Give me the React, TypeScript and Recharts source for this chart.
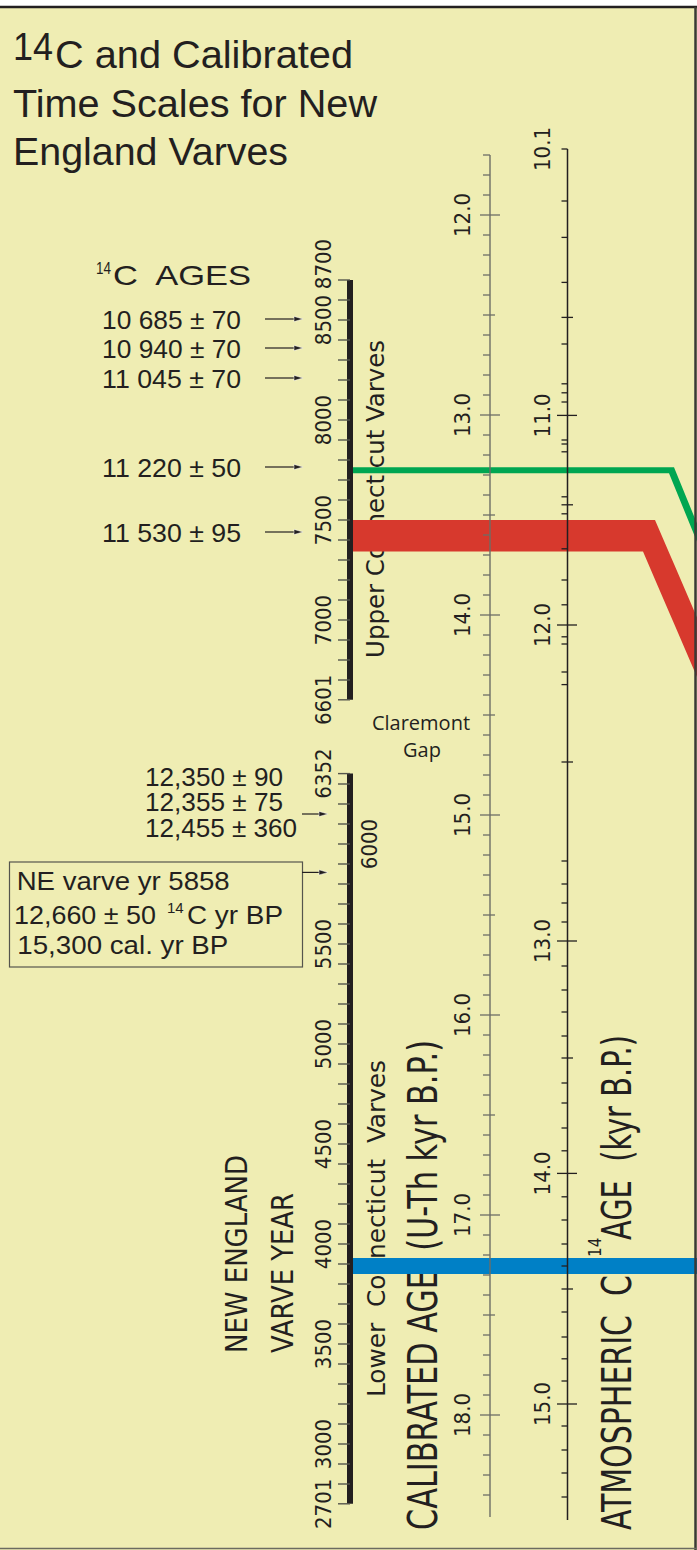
import React from 'react'
import { ComposedChart, XAxis, YAxis, Area, Scatter, ReferenceLine } from 'recharts'

const W = 697
const H = 1550

// vertical axis = calibrated age (kyr BP), 200 px per kyr, 12.0 at y = 215
const CAL_TOP = 10.925
const CAL_BOTTOM = 18.675

// New England varve sequences either side of the Claremont Gap: cal kyr = anchorCal + (anchorVarve - v) / 1000
const upperSeg = { first: 8700, last: 6601, anchorVarve: 7000, anchorCal: 14.025 }
const lowerSeg = { first: 6352, last: 2701, anchorVarve: 6000, anchorCal: 15.145 }

const upperVarveLabels = [8700, 8500, 8000, 7500, 7000, 6601]
const lowerVarveLabels = [6352, 6000, 5500, 5000, 4500, 4000, 3500, 3000, 2701]

// calibrated (U-Th) scale
const calFirst = 11.7
const calLast = 18.4
const calLineEnd = 18.51
const calLabels = [12, 13, 14, 15, 16, 17, 18]

// atmospheric 14C scale: tick value and where it sits on the calibrated scale
const c14Values = [10.1, 10.2, 10.3, 10.4, 10.5, 10.6, 10.7, 10.8, 10.9, 11.0,
  11.1, 11.2, 11.3, 11.4, 11.5, 11.6, 11.7, 11.8, 11.9, 12.0,
  12.1, 12.2, 12.3, 12.4, 12.5, 12.6, 12.7, 12.8, 12.9, 13.0,
  13.1, 13.2, 13.3, 13.4, 13.5, 13.6, 13.7, 13.8, 13.9, 14.0,
  14.1, 14.2, 14.3, 14.4, 14.5, 14.6, 14.7, 14.8, 14.9, 15.0,
  15.1, 15.2, 15.3, 15.4]
const c14CalAge = [11.670, 11.930, 12.112, 12.337, 12.512, 12.645, 12.844, 12.889, 12.935, 13.002,
  13.125, 13.145, 13.184, 13.409, 13.449, 13.494, 13.669, 13.825, 13.949, 14.050,
  14.109, 14.145, 14.285, 14.348, 14.735, 15.230, 15.345, 15.440, 15.535, 15.630,
  15.755, 15.875, 15.985, 16.105, 16.215, 16.340, 16.440, 16.565, 16.679, 16.792,
  16.909, 17.025, 17.145, 17.255, 17.370, 17.485, 17.610, 17.719, 17.830, 17.945,
  18.055, 18.175, 18.290, 18.410]
const c14LineEnd = 18.525
const c14Labels = ['10.1', '11.0', '12.0', '13.0', '14.0', '15.0']

// 14C dates and the varve years they point at
const upperDates = ['10 685 ± 70', '10 940 ± 70', '11 045 ± 70', '11 220 ± 50', '11 530 ± 95']
const upperDateVarves = [8505, 8360, 8210, 7765, 7440]
const lowerDates = ['12,350 ± 90', '12,355 ± 75', '12,455 ± 360']
const lowerArrowVarves = [6150, 5858]

// highlighted varve intervals
const greenVarves = [7734, 7764]
const redVarves = [7342, 7500]
const blueVarves = [3850, 3930]

const INK = '#231f20'
const BG = '#efedb3'
const GREEN = '#00a651'
const RED = '#d7392d'
const BLUE = '#0080c6'
const NARROW = "'Liberation Sans Narrow', 'Arial Narrow', 'DejaVu Sans Condensed', sans-serif"
const SANS = "'Liberation Sans', Arial, Helvetica, sans-serif"
const MYRIAD = "'Open Sans', 'Noto Sans', sans-serif"

const VARVE_X = 350
const CAL_X = 490
const C14_X = 567.5

const varveCal = (v: number, seg: typeof upperSeg) => seg.anchorCal + (seg.anchorVarve - v) / 1000
const round = (n: number) => Math.round(n * 1000) / 1000

// varve ticks every 100 yr plus the ends of each sequence
const varveTickPts: any[] = []
for (const seg of [upperSeg, lowerSeg]) {
  varveTickPts.push({ x: VARVE_X, y: varveCal(seg.first, seg) })
  for (let v = Math.floor(seg.first / 100) * 100; v > seg.last; v -= 100) {
    if (v !== seg.first) varveTickPts.push({ x: VARVE_X, y: varveCal(v, seg) })
  }
  varveTickPts.push({ x: VARVE_X, y: varveCal(seg.last, seg) })
}
const varveLabelPts = [
  ...upperVarveLabels.map(v => ({ x: VARVE_X, y: varveCal(v, upperSeg), label: String(v), v })),
  ...lowerVarveLabels.map(v => ({ x: VARVE_X, y: varveCal(v, lowerSeg), label: String(v), v })),
]

const calTickPts: any[] = []
for (let i = 0; round(calFirst + i / 10) <= calLast; i++) {
  const c = round(calFirst + i / 10)
  const kind = Math.abs(c - Math.round(c)) < 1e-6 ? 'major' : Math.abs(c * 2 - Math.round(c * 2)) < 1e-6 ? 'half' : 'minor'
  calTickPts.push({ x: CAL_X, y: c, kind })
}
const calLabelPts = calLabels.map(c => ({ x: CAL_X, y: c, label: c.toFixed(1) }))

const c14TickPts = c14Values.map((v, i) => {
  const tenths = Math.round(v * 10) % 10
  return { x: C14_X, y: c14CalAge[i], kind: tenths === 0 ? 'major' : tenths === 5 ? 'half' : 'minor' }
})
const c14LabelPts = c14Labels.map(l => ({ x: C14_X, y: c14CalAge[c14Values.indexOf(Number(l))], label: l }))

const upperArrowPts = upperDateVarves.map((v, i) => ({ x: 303, y: varveCal(v, upperSeg), label: upperDates[i] }))
const lowerArrowPts = lowerArrowVarves.map(v => ({ x: 328, y: varveCal(v, lowerSeg) }))

// bands: horizontal, then (green, red) dropping off to the right edge
const bandXs = [353, 643, 655, 669, 674, W]
const bands = [
  { key: 'green', cal: [varveCal(greenVarves[1], upperSeg), varveCal(greenVarves[0], upperSeg)], bendTop: 674, bendBottom: 669, drop: 0.01225 },
  { key: 'red', cal: [varveCal(redVarves[1], upperSeg), varveCal(redVarves[0], upperSeg)], bendTop: 655, bendBottom: 643, drop: 0.0116 },
  { key: 'blue', cal: [varveCal(blueVarves[1], lowerSeg), varveCal(blueVarves[0], lowerSeg)], bendTop: W, bendBottom: W, drop: 0 },
]
const bandRows = bandXs.map(x => {
  const row: any = { x }
  bands.forEach(b => {
    row[b.key] = [b.cal[0] + Math.max(0, x - b.bendTop) * b.drop, b.cal[1] + Math.max(0, x - b.bendBottom) * b.drop]
  })
  return row
})

const TICK_LEN: Record<string, Record<string, [number, number]>> = {
  cal: { minor: [7, 0], half: [7, 5], major: [10, 10] },
  c14: { minor: [6, 0], half: [6, 5.5], major: [10.5, 9.5] },
}

const tickShape = (axis: string, color: string) => (p: any) => {
  const [l, r] = TICK_LEN[axis][p.payload.kind]
  return <line x1={p.cx - l} x2={p.cx + r} y1={p.cy} y2={p.cy} stroke={color} strokeWidth={1.3} />
}

const rotLabel = (dx: number, size: number) => (p: any) => {
  let bx = p.cx + dx
  let cy = p.cy
  if (p.payload.v === 6000) bx = p.cx + 27
  // the top label of the upper sequence sits just above its tick
  if (p.payload.v === upperSeg.first) cy = p.cy - 16
  return (
    <text transform={`translate(${bx},${cy}) rotate(-90)`} textAnchor="middle" fontSize={size}
      fontFamily={NARROW} fill={INK}>{p.payload.label}</text>
  )
}

const arrowShape = (len: number, withLabel: boolean) => (p: any) => (
  <g>
    <line x1={p.cx - len} x2={p.cx - 6} y1={p.cy} y2={p.cy} stroke={INK} strokeWidth={1.2} />
    <path d={`M${p.cx},${p.cy} L${p.cx - 9},${p.cy - 2.6} L${p.cx - 9},${p.cy + 2.6} Z`} fill={INK} stroke="#fff" strokeWidth={0.5} />
    {withLabel && (
      <text x={102} y={p.cy + 10} fontSize={25} fontFamily={SANS} fill={INK} textLength={139}
        lengthAdjust="spacingAndGlyphs">{p.payload.label}</text>
    )}
  </g>
)

function VText({ x, y, size, len, family = NARROW, children }: any) {
  return (
    <text transform={`translate(${x},${y}) rotate(-90)`} fontSize={size} fontFamily={family} fill={INK}
      xmlSpace="preserve" textLength={len} lengthAdjust="spacingAndGlyphs">{children}</text>
  )
}

function HText({ x, y, size, len, family = SANS, anchor = 'start', children }: any) {
  return (
    <text x={x} y={y} fontSize={size} fontFamily={family} fill={INK} textAnchor={anchor} xmlSpace="preserve"
      textLength={len} lengthAdjust={len ? 'spacingAndGlyphs' : undefined}>{children}</text>
  )
}

export default function App() {
  const layer: React.CSSProperties = { position: 'absolute', left: 0, top: 0 }
  return (
    <div style={{ position: 'absolute', left: 0, top: 0, width: W, height: H, background: '#fff' }}>
      <svg width={W} height={H} style={{ ...layer, whiteSpace: 'pre' }}>
        <rect x={0} y={7} width={W} height={H - 7} fill={BG} />
        <HText x={13} y={60} size={38} len={40}>14</HText>
        <HText x={55} y={68} size={38} len={298}>C and Calibrated</HText>
        <HText x={13} y={116.7} size={38} len={364}>Time Scales for New</HText>
        <HText x={13} y={165} size={38} len={275}>England Varves</HText>

        <HText x={96} y={274} size={17} len={15}>14</HText>
        <HText x={113} y={285} size={28} len={138}>C  AGES</HText>

        {lowerDates.map((d, i) => (
          <HText key={d} x={145} y={785.7 + i * 25.5} size={25} len={d.length > 11 ? 152 : 138}>{d}</HText>
        ))}

        <rect x={9.5} y={862} width={293} height={105} fill="none" stroke="#55554d" strokeWidth={1.2} />
        <HText x={16.7} y={890} size={26} len={213}>NE varve yr 5858</HText>
        <HText x={14} y={924} size={26} len={142}>12,660 ± 50</HText>
        <HText x={167} y={913} size={15}>14</HText>
        <HText x={187} y={924} size={26} len={96}>C yr BP</HText>
        <HText x={17.3} y={954} size={26} len={211}>15,300 cal. yr BP</HText>

        <HText x={421} y={730} size={20} family={MYRIAD} anchor="middle">Claremont</HText>
        <HText x={422} y={757} size={20} family={MYRIAD} anchor="middle">Gap</HText>

        <VText x={383.5} y={658} size={25} len={318}>Upper Connecticut Varves</VText>
        <VText x={385} y={1397} size={25} len={337}>Lower  Connecticut  Varves</VText>
        <VText x={247} y={1353} size={31} len={198}>NEW ENGLAND</VText>
        <VText x={293} y={1353} size={31} len={160}>VARVE YEAR</VText>
        <VText x={437} y={1530} size={41} len={490}>CALIBRATED AGE  (U-Th kyr B.P.)</VText>
        <VText x={631} y={1530} size={41} len={255}>ATMOSPHERIC  C</VText>
        <VText x={601} y={1257} size={17}>14</VText>
        <VText x={631} y={1240} size={41} len={205}>AGE  (kyr B.P.)</VText>
      </svg>

      <div style={layer}>
        <ComposedChart width={W} height={H} data={bandRows} margin={{ top: 0, right: 0, bottom: 0, left: 0 }}>
          <XAxis type="number" dataKey="x" domain={[0, W]} allowDataOverflow hide />
          <YAxis type="number" dataKey="y" domain={[CAL_TOP, CAL_BOTTOM]} reversed allowDataOverflow hide />
          <Area dataKey="green" type="linear" stroke="none" fill={GREEN} fillOpacity={1} isAnimationActive={false} />
          <Area dataKey="red" type="linear" stroke="none" fill={RED} fillOpacity={1} isAnimationActive={false} />
          <Area dataKey="blue" type="linear" stroke="none" fill={BLUE} fillOpacity={1} isAnimationActive={false} />

          <ReferenceLine segment={[{ x: VARVE_X, y: varveCal(upperSeg.first, upperSeg) }, { x: VARVE_X, y: varveCal(upperSeg.last, upperSeg) }]}
            stroke={INK} strokeWidth={6} />
          <ReferenceLine segment={[{ x: VARVE_X, y: varveCal(lowerSeg.first, lowerSeg) }, { x: VARVE_X, y: varveCal(lowerSeg.last, lowerSeg) }]}
            stroke={INK} strokeWidth={6} />
          <ReferenceLine segment={[{ x: CAL_X, y: calFirst }, { x: CAL_X, y: calLineEnd }]} stroke="#6d6d66" strokeWidth={1.4} />
          <ReferenceLine segment={[{ x: C14_X, y: c14CalAge[0] }, { x: C14_X, y: c14LineEnd }]} stroke={INK} strokeWidth={1.5} />

          <Scatter data={varveTickPts} isAnimationActive={false}
            shape={(p: any) => <line x1={p.cx - 12} x2={p.cx} y1={p.cy} y2={p.cy} stroke="#55554d" strokeWidth={1.4} />} />
          <Scatter data={varveLabelPts} isAnimationActive={false} shape={rotLabel(-19.5, 22)} />
          <Scatter data={calTickPts} isAnimationActive={false} shape={tickShape('cal', '#6d6d66')} />
          <Scatter data={calLabelPts} isAnimationActive={false} shape={rotLabel(-20, 22)} />
          <Scatter data={c14TickPts} isAnimationActive={false} shape={tickShape('c14', INK)} />
          <Scatter data={c14LabelPts} isAnimationActive={false} shape={rotLabel(-17.5, 22)} />
          <Scatter data={upperArrowPts} isAnimationActive={false} shape={arrowShape(38, true)} />
          <Scatter data={lowerArrowPts} isAnimationActive={false} shape={arrowShape(26, false)} />
        </ComposedChart>
      </div>

      <svg width={W} height={H} style={{ ...layer, pointerEvents: 'none' }}>
        <line x1={0} x2={W} y1={7} y2={7} stroke={INK} strokeWidth={2.5} />
        <line x1={695.5} x2={695.5} y1={7} y2={H} stroke="#3a3a36" strokeWidth={2.5} />
        <line x1={0} x2={W} y1={1548.5} y2={1548.5} stroke="#6b6b60" strokeWidth={1.5} />
      </svg>
    </div>
  )
}
